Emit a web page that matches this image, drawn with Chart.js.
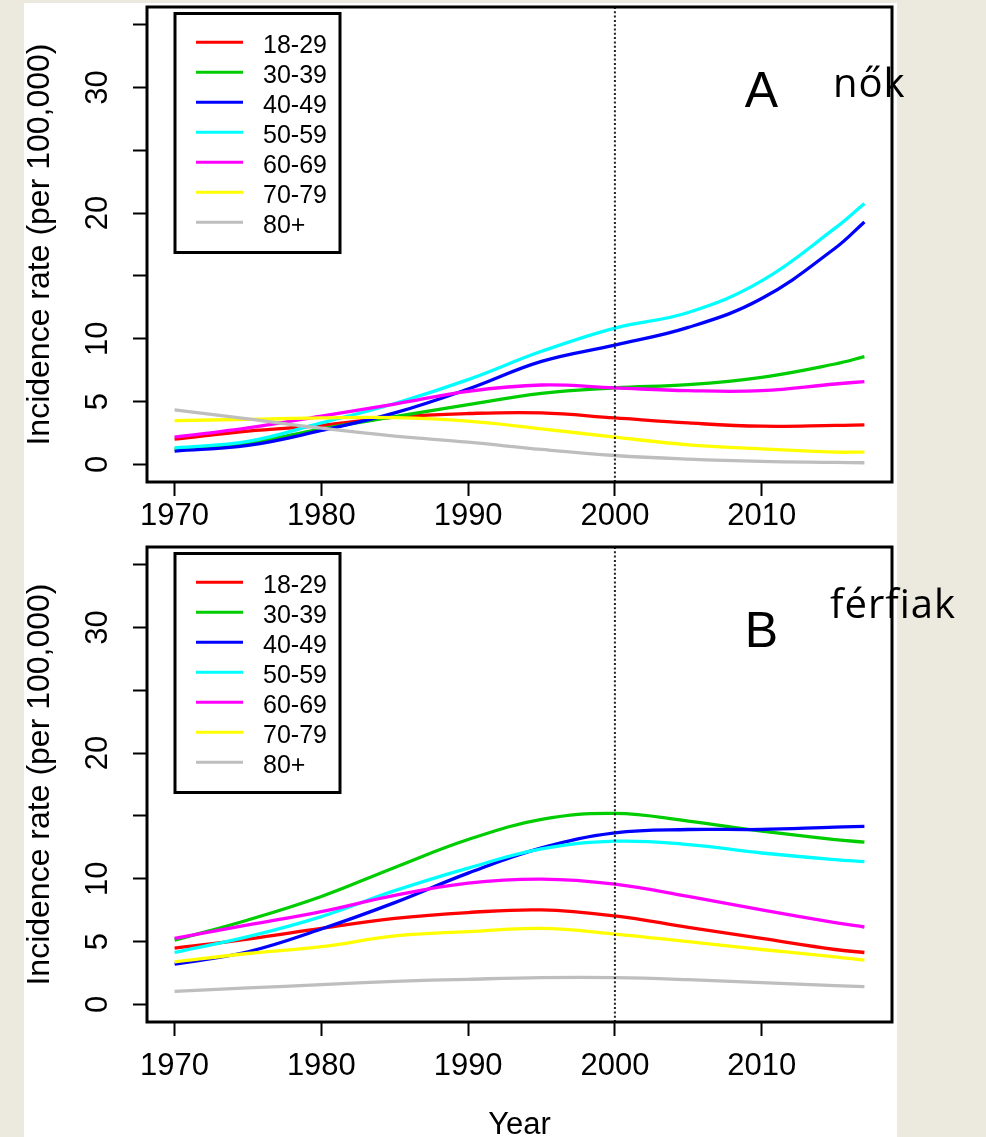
<!DOCTYPE html>
<html>
<head>
<meta charset="utf-8">
<script src="https://cdn.jsdelivr.net/npm/chart.js@4.4.1/dist/chart.umd.min.js"></script>
<style>
  html, body { margin: 0; padding: 0; }
  body { width: 986px; height: 1137px; overflow: hidden; background: #ECE9DF; position: relative; }
  #sheet { position: absolute; left: 24px; top: 3px; width: 873px; height: 1134px; background: #fff; }
  canvas { position: absolute; left: 0; }
  #chartA { top: 0; }
  #chartB { top: 540px; }
</style>
</head>
<body>
<div id="sheet"></div>
<canvas id="chartA" width="986" height="540" style="width:986px;height:540px"></canvas>
<canvas id="chartB" width="986" height="597" style="width:986px;height:597px"></canvas>
<script>
// ── adatok ─────────────────────────────────────────────
const YEARS      = [1970, 1975, 1980, 1985, 1990, 1995, 2000, 2005, 2010, 2015, 2017];
const AGE_GROUPS = ['18-29', '30-39', '40-49', '50-59', '60-69', '70-79', '80+'];
const COLORS     = ['#FF0000', '#00CD00', '#0000FF', '#00FFFF', '#FF00FF', '#FFFF00', '#BEBEBE'];

const X_TICKS  = [1970, 1980, 1990, 2000, 2010];
const Y_TICKS  = [0, 5, 10, 15, 20, 25, 30, 35];
const Y_LABELS = [0, 5, 10, 20, 30];
const REF_YEAR = 2000;

// A – nők
const A_18_29 = [2.01, 2.65, 3.10, 3.76, 4.05, 4.10, 3.70, 3.30, 3.04, 3.10, 3.15];
const A_30_39 = [1.22, 1.69, 2.83, 3.80, 4.76, 5.66, 6.09, 6.35, 6.93, 7.99, 8.57];
const A_40_49 = [1.06, 1.51, 2.70, 4.10, 6.00, 8.20, 9.50, 10.90, 13.20, 17.20, 19.29];
const A_50_59 = [1.32, 1.83, 3.30, 4.85, 6.75, 9.00, 10.85, 12.09, 14.60, 18.80, 20.77];
const A_60_69 = [2.17, 2.91, 3.85, 4.80, 5.82, 6.32, 6.09, 5.87, 5.87, 6.40, 6.59];
const A_70_79 = [3.49, 3.58, 3.70, 3.72, 3.44, 2.83, 2.17, 1.56, 1.24, 0.98, 0.98];
const A_80P   = [4.34, 3.62, 2.88, 2.25, 1.77, 1.19, 0.71, 0.42, 0.24, 0.16, 0.13];

// B – férfiak
const B_18_29 = [4.48, 5.20, 6.05, 6.85, 7.31, 7.52, 7.04, 6.13, 5.25, 4.37, 4.13];
const B_30_39 = [5.12, 6.72, 8.59, 10.90, 13.12, 14.72, 15.20, 14.59, 13.79, 13.12, 12.91];
const B_40_49 = [3.20, 4.19, 6.00, 8.10, 10.45, 12.45, 13.65, 13.92, 13.92, 14.11, 14.16];
const B_50_59 = [4.13, 5.39, 6.99, 9.05, 10.85, 12.37, 12.99, 12.72, 12.05, 11.52, 11.36];
const B_60_69 = [5.25, 6.32, 7.39, 8.68, 9.65, 9.97, 9.57, 8.59, 7.52, 6.51, 6.16];
const B_70_79 = [3.39, 4.05, 4.59, 5.45, 5.79, 6.05, 5.60, 4.99, 4.37, 3.79, 3.52];
const B_80P   = [1.04, 1.31, 1.57, 1.83, 2.00, 2.13, 2.13, 1.97, 1.73, 1.49, 1.41];

const SANS = '"Liberation Sans", Arial, Helvetica, sans-serif';

// ── keret + pontozott vonal 2000-nél ──────────────────
const framePlugin = {
  id: 'frame',
  afterDatasetsDraw(chart) {
    const { ctx, chartArea: a, scales: { x } } = chart;
    ctx.save();
    const xv = x.getPixelForValue(REF_YEAR);
    ctx.setLineDash([2, 2.3]);
    ctx.lineWidth = 2;
    ctx.strokeStyle = '#222';
    ctx.beginPath(); ctx.moveTo(xv, a.top); ctx.lineTo(xv, a.bottom); ctx.stroke();
    ctx.setLineDash([]);
    ctx.lineWidth = 3;
    ctx.strokeStyle = '#000';
    ctx.strokeRect(a.left, a.top, a.right - a.left, a.bottom - a.top);
    ctx.restore();
  }
};

// ── R-stílusú jelmagyarázat ────────────────────────────
const legendPlugin = {
  id: 'rLegend',
  afterDraw(chart) {
    const ctx = chart.ctx;
    ctx.save();
    ctx.fillStyle = '#fff';
    ctx.fillRect(175, 13.5, 165, 239);
    ctx.lineWidth = 3;
    ctx.strokeStyle = '#000';
    ctx.strokeRect(175, 13.5, 165, 239);
    ctx.font = '25px ' + SANS;
    ctx.textBaseline = 'alphabetic';
    chart.data.datasets.forEach((ds, i) => {
      const y = 42.3 + i * 30;
      ctx.strokeStyle = ds.borderColor;
      ctx.lineWidth = 3;
      ctx.beginPath(); ctx.moveTo(196, y); ctx.lineTo(243, y); ctx.stroke();
      ctx.fillStyle = '#000';
      ctx.fillText(ds.label, 263, y + 10.3);
    });
    ctx.restore();
  }
};

// ── panel betű és felirat ──────────────────────────────
const panelTextPlugin = {
  id: 'panelText',
  afterDraw(chart, args, o) {
    const ctx = chart.ctx;
    ctx.save();
    ctx.fillStyle = '#000';
    ctx.textBaseline = 'alphabetic';
    ctx.font = '50px ' + SANS;
    ctx.textAlign = 'center';
    ctx.fillText(o.letter, 761.5, 107);
    ctx.font = '40px "Open Sans", sans-serif';
    ctx.textAlign = 'left';
    if ('letterSpacing' in ctx) ctx.letterSpacing = '1px';
    ctx.fillText(o.label, o.labelX, o.labelY);
    ctx.restore();
  }
};

function makeChart(id, series, cfg) {
  const datasets = series.map((vals, i) => ({
    label: AGE_GROUPS[i],
    data: YEARS.map((yr, k) => ({ x: yr, y: vals[k] })),
    borderColor: COLORS[i],
    backgroundColor: COLORS[i],
    borderWidth: 3.3,
    pointRadius: 0,
    fill: false,
    tension: 0.4,
    order: series.length - i,
  }));

  return new Chart(document.getElementById(id), {
    type: 'line',
    data: { datasets },
    options: {
      responsive: false,
      animation: false,
      events: [],
      layout: { padding: { left: 0, right: 94, top: 7, bottom: 0 } },
      plugins: {
        legend: { display: false },
        tooltip: { enabled: false },
        panelText: { letter: cfg.letter, label: cfg.label, labelX: cfg.labelX, labelY: cfg.labelY },
      },
      scales: {
        x: {
          type: 'linear',
          min: 1968.12, max: 2018.88,
          afterBuildTicks: s => { s.ticks = X_TICKS.map(v => ({ value: v })); },
          afterFit: s => { s.height = cfg.xAxisH; s.paddingLeft = 0; s.paddingRight = 0; },
          ticks: {
            autoSkip: false, maxRotation: 0, minRotation: 0,
            color: '#000', padding: cfg.xPad,
            font: { family: SANS, size: 31 },
            callback: v => String(v),
          },
          grid: { drawOnChartArea: false, drawTicks: true, tickLength: 14, tickWidth: 2, tickColor: '#000' },
          border: { display: false },
          title: {
            display: cfg.showYear, text: 'Year', color: '#000',
            font: { family: SANS, size: 31 }, padding: { top: 0, bottom: -7 },
          },
        },
        y: {
          min: -1.4, max: 36.4,
          afterBuildTicks: s => { s.ticks = Y_TICKS.map(v => ({ value: v })); },
          afterFit: s => { s.width = 147; s.paddingTop = 0; s.paddingBottom = 0; },
          ticks: {
            autoSkip: false, minRotation: 90, maxRotation: 90, crossAlign: 'center',
            color: '#000', padding: 17.5,
            font: { family: SANS, size: 31 },
            callback: v => (Y_LABELS.includes(v) ? String(v) : ''),
          },
          grid: { drawOnChartArea: false, drawTicks: true, tickLength: 14, tickWidth: 2, tickColor: '#000' },
          border: { display: false },
          title: {
            display: true, text: 'Incidence rate (per 100,000)', color: '#000',
            font: { family: SANS, size: 32 }, padding: { top: 21, bottom: 0 },
          },
        },
      },
    },
    plugins: [framePlugin, legendPlugin, panelTextPlugin],
  });
}

makeChart('chartA',
  [A_18_29, A_30_39, A_40_49, A_50_59, A_60_69, A_70_79, A_80P],
  { letter: 'A', label: 'nők', labelX: 833, labelY: 97, xAxisH: 58, xPad: 2, showYear: false });

makeChart('chartB',
  [B_18_29, B_30_39, B_40_49, B_50_59, B_60_69, B_70_79, B_80P],
  { letter: 'B', label: 'férfiak', labelX: 830, labelY: 78, xAxisH: 115, xPad: 11.5, showYear: true });
</script>
</body>
</html>
